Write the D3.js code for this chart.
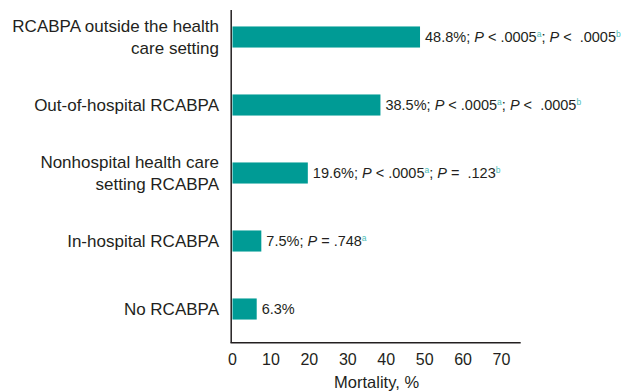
<!DOCTYPE html>
<html>
<head>
<meta charset="utf-8">
<script src="https://cdn.jsdelivr.net/npm/d3@7"></script>
<style>
  body { margin: 0; background: #fff; }
  text { font-family: "Liberation Sans", Arial, Helvetica, sans-serif; fill: #231f20; white-space: pre; }
</style>
</head>
<body>
<div id="chart"></div>
<script>
// data
const categories = [
  ["RCABPA outside the health", "care setting"],
  ["Out-of-hospital RCABPA"],
  ["Nonhospital health care", "setting RCABPA"],
  ["In-hospital RCABPA"],
  ["No RCABPA"]
];
const mortality = [48.8, 38.5, 19.6, 7.5, 6.3];
// p-value annotations: [text after "P", superscript]
const pValues = [
  [[" < .0005", "a"], [" <  .0005", "b"]],
  [[" < .0005", "a"], [" <  .0005", "b"]],
  [[" < .0005", "a"], [" =  .123", "b"]],
  [[" = .748", "a"]],
  []
];
const xTicks = [0, 10, 20, 30, 40, 50, 60, 70];
const xTitle = "Mortality, %";

const W = 625, H = 391;
const teal = "#009b95";
const supColor = "#4dbdb8";

const svg = d3.select('#chart').append('svg').attr('width', W).attr('height', H);

const x = d3.scaleLinear().domain([0, 75]).range([232.5, 520.7]);
const y = d3.scaleBand()
  .domain(d3.range(categories.length))
  .range([3, 343])
  .paddingInner(0.69)
  .paddingOuter(0.345);

const axisY = 342.7;

// bars
svg.selectAll('.bar')
  .data(mortality)
  .enter()
  .append('rect')
  .attr('class', 'bar')
  .attr('x', x(0))
  .attr('y', (d, i) => y(i))
  .attr('width', d => x(d) - x(0))
  .attr('height', y.bandwidth())
  .attr('fill', teal);

// axes lines
svg.append('line')
  .attr('x1', 231.2).attr('x2', 231.2)
  .attr('y1', 10).attr('y2', axisY)
  .attr('stroke', '#231f20').attr('stroke-width', 1.5);
svg.append('line')
  .attr('x1', 230.5).attr('x2', x(75))
  .attr('y1', axisY).attr('y2', axisY)
  .attr('stroke', '#231f20').attr('stroke-width', 1.5);

// x tick labels
svg.selectAll('.tick-label')
  .data(xTicks)
  .enter()
  .append('text')
  .attr('class', 'tick-label')
  .attr('x', d => x(d))
  .attr('y', 365)
  .attr('text-anchor', 'middle')
  .style('font-size', '16px')
  .text(d => d);

svg.append('text')
  .attr('x', x(37.5))
  .attr('y', 388)
  .attr('text-anchor', 'middle')
  .style('font-size', '16.5px')
  .text(xTitle);

// category labels
categories.forEach((lines, i) => {
  const cy = y(i) + y.bandwidth() / 2;
  const t = svg.append('text')
    .attr('text-anchor', 'end')
    .style('font-size', '17px');
  lines.forEach((line, j) => {
    const off = (j - (lines.length - 1) / 2) * 22;
    t.append('tspan')
      .attr('x', 219)
      .attr('y', cy + off + 6)
      .text(line);
  });
});

// value labels
mortality.forEach((v, i) => {
  const cy = y(i) + y.bandwidth() / 2;
  const base = cy + 5.2;
  const t = svg.append('text')
    .attr('x', x(v) + 5)
    .attr('y', base)
    .style('font-size', '14.5px');
  t.append('tspan').text(v.toFixed(1) + '%');
  pValues[i].forEach(p => {
    t.append('tspan').attr('y', base).text('; ');
    t.append('tspan').style('font-style', 'italic').text('P');
    t.append('tspan').text(p[0]);
    t.append('tspan')
      .attr('y', base - 5.5)
      .style('font-size', '8.5px')
      .style('fill', supColor)
      .text(p[1]);
  });
});
</script>
</body>
</html>
